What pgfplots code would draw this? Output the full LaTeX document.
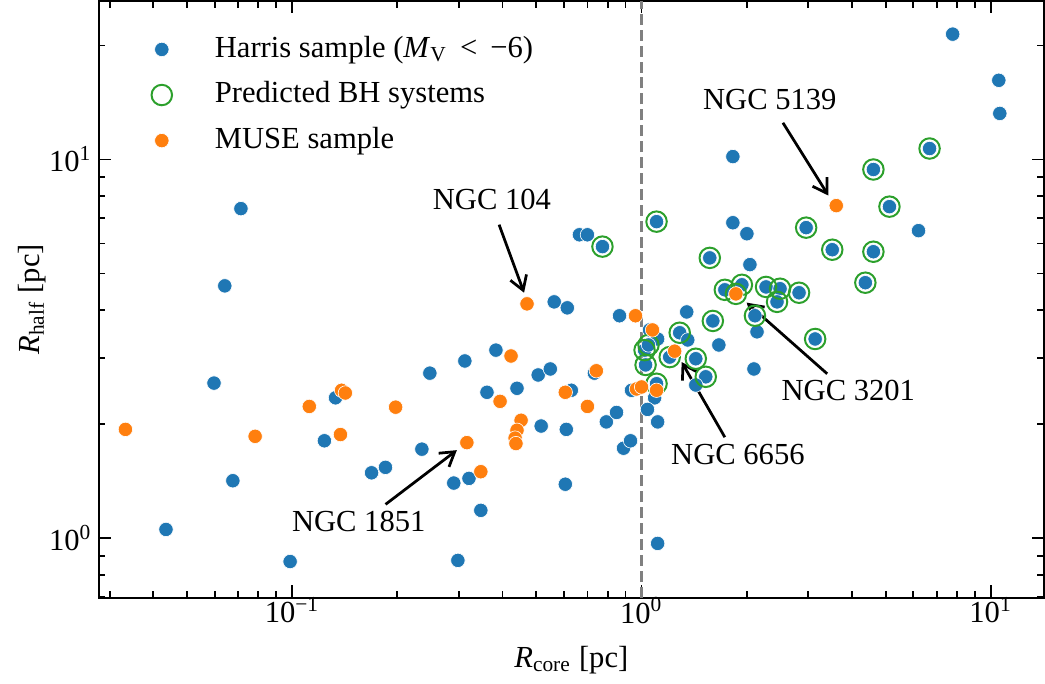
\documentclass[border=0pt]{standalone}
\usepackage{fontspec}
\setmainfont{Liberation Serif}
\usepackage{pgfplots}
\pgfplotsset{compat=1.18}
\usetikzlibrary{arrows.meta}
\definecolor{tabblue}{HTML}{1F77B4}
\definecolor{taborange}{HTML}{FF7F0E}
\definecolor{tabgreen}{HTML}{2CA02C}
\begin{document}
\begin{tikzpicture}
\begin{axis}[
  scale only axis, width=309pt, height=195pt,
  xmode=log, ymode=log,
  xmin=0.0279, xmax=14.2, ymin=0.698, ymax=26.2,
  xtick={0.1,1,10},
  xticklabels={10\textsuperscript{−1},10\textsuperscript{0},10\textsuperscript{1}},
  ytick={1,10},
  yticklabels={10\textsuperscript{0},10\textsuperscript{1}},
  minor xtick={0.03,0.04,0.05,0.06,0.07,0.08,0.09,0.2,0.3,0.4,0.5,0.6,0.7,0.8,0.9,2,3,4,5,6,7,8,9},
  minor ytick={0.7,0.8,0.9,2,3,4,5,6,7,8,9,20},
  major tick length=4pt, minor tick length=2.2pt,
  every tick/.style={black, line width=0.6pt},
  axis line style={line width=0.65pt},
  yticklabel style={inner xsep=2pt},
  xticklabel style={yshift=3.5pt},
  xlabel={\textit{R}\textsubscript{core} [pc]},
  ylabel={\textit{R}\textsubscript{half} [pc]},
  xlabel style={yshift=-0.5pt},
  ylabel style={yshift=-4.5pt},
  legend cell align=left,
  legend style={draw=none, fill=none, inner sep=0pt, outer sep=0pt,
    at={(rel axis cs:0.056,0.947)}, anchor=north west,
    nodes={inner sep=1pt, text height=7pt, text depth=2pt},
    row sep=3.9pt, column sep=2pt,
    /tikz/every odd column/.append style={column sep=13pt}},
]
\addplot[only marks, mark=*, mark size=2.35pt,
  mark options={fill=tabblue, draw=white, line width=0.2pt}] table {
0.0435 1.056
0.0713 7.42
0.0641 4.64
0.0597 2.57
0.0676 1.42
0.0986 0.869
0.133 2.35
0.1236 1.81
0.1687 1.49
0.1849 1.54
0.235 1.72
0.2477 2.73
0.312 2.94
0.383 3.14
0.361 2.43
0.440 2.49
0.506 2.70
0.548 2.80
0.516 1.98
0.609 1.94
0.605 1.39
0.3467 1.186
0.298 0.875
0.290 1.40
0.3206 1.44
0.5623 4.21
0.613 4.06
0.733 2.73
0.6295 2.46
0.793 2.03
0.848 2.15
0.888 1.73
0.930 1.81
0.664 6.33
0.700 6.33
0.865 3.87
1.112 0.970
0.936 2.46
0.773 5.89
1.104 6.855
1.568 5.50
1.347 3.96
1.600 3.75
1.054 3.55
1.112 3.36
1.020 3.14
1.047 3.24
1.286 3.49
1.356 3.34
1.204 3.01
1.430 2.98
1.665 3.24
1.027 2.87
1.527 2.67
1.430 2.54
1.104 2.56
1.090 2.35
1.040 2.19
1.112 2.03
1.826 10.18
1.826 6.81
2.003 6.37
2.043 5.28
1.732 4.53
1.938 4.67
1.863 4.42
2.272 4.61
2.492 4.56
2.443 4.21
2.825 4.45
2.112 3.87
2.141 3.51
3.141 3.36
2.098 2.80
2.960 6.61
3.516 5.78
4.611 5.71
4.373 4.73
6.678 10.69
4.611 9.41
5.126 7.51
6.210 6.49
7.778 21.42
10.54 16.18
10.61 13.23
};
\addlegendentry{Harris sample (\textit{M}\textsubscript{V}\hspace{4.2pt}<\hspace{4.2pt}−6)}
\addplot[only marks, mark=o, mark size=3.35pt,
  mark options={draw=tabgreen, line width=0.65pt}] table {
0.773 5.89
1.104 6.855
1.568 5.50
1.600 3.75
1.020 3.14
1.047 3.24
1.286 3.49
1.204 3.01
1.430 2.98
1.027 2.87
1.527 2.67
1.104 2.56
1.732 4.53
1.938 4.67
1.863 4.42
2.272 4.61
2.492 4.56
2.443 4.21
2.825 4.45
2.112 3.87
3.141 3.36
2.960 6.61
3.516 5.78
4.611 5.71
4.373 4.73
6.678 10.69
4.611 9.41
5.126 7.51
};
\addlegendentry{Predicted BH systems}
\addplot[only marks, mark=*, mark size=2.35pt,
  mark options={fill=taborange, draw=white, line width=0.2pt}] table {
0.0333 1.94
0.0783 1.86
0.1119 2.23
0.1384 2.46
0.1419 2.42
0.1374 1.88
0.1977 2.22
0.3162 1.79
0.3467 1.50
0.3936 2.30
0.423 3.03
0.452 2.05
0.440 1.93
0.4345 1.84
0.437 1.78
0.470 4.16
0.605 2.43
0.700 2.23
0.7425 2.77
0.961 3.87
1.075 3.55
0.967 2.48
1.0 2.51
1.104 2.46
1.244 3.12
1.863 4.42
3.610 7.556
};
\addlegendentry{MUSE sample}
\addplot[forget plot, color=gray, line width=1.1pt, dash pattern=on 3.6pt off 1.6pt]
  coordinates {(1,0.698) (1,26.2)};
% annotations
\draw[line width=0.9pt, -{Straight Barb[length=4.5pt,width=5.6pt]}] (axis cs:0.391,6.73) -- (axis cs:0.461,4.45);
\node at (axis cs:0.373,7.84) {NGC 104};
\draw[line width=0.9pt, -{Straight Barb[length=4.5pt,width=5.6pt]}] (axis cs:2.54,12.5) -- (axis cs:3.43,8.03);
\node at (axis cs:2.33,14.4) {NGC 5139};
\draw[line width=0.9pt, -{Straight Barb[length=4.5pt,width=5.6pt]}] (axis cs:3.40,2.72) -- (axis cs:2.00,4.19);
\node at (axis cs:3.91,2.46) {NGC 3201};
\draw[line width=0.9pt, -{Straight Barb[length=4.5pt,width=5.6pt]}] (axis cs:1.732,1.85) -- (axis cs:1.303,2.92);
\node at (axis cs:1.888,1.668) {NGC 6656};
\draw[line width=0.9pt, -{Straight Barb[length=4.5pt,width=5.6pt]}] (axis cs:0.185,1.23) -- (axis cs:0.296,1.71);
\node at (axis cs:0.155,1.109) {NGC 1851};
\end{axis}
\path ([xshift=-2.6pt]current bounding box.west);
\end{tikzpicture}
\end{document}
